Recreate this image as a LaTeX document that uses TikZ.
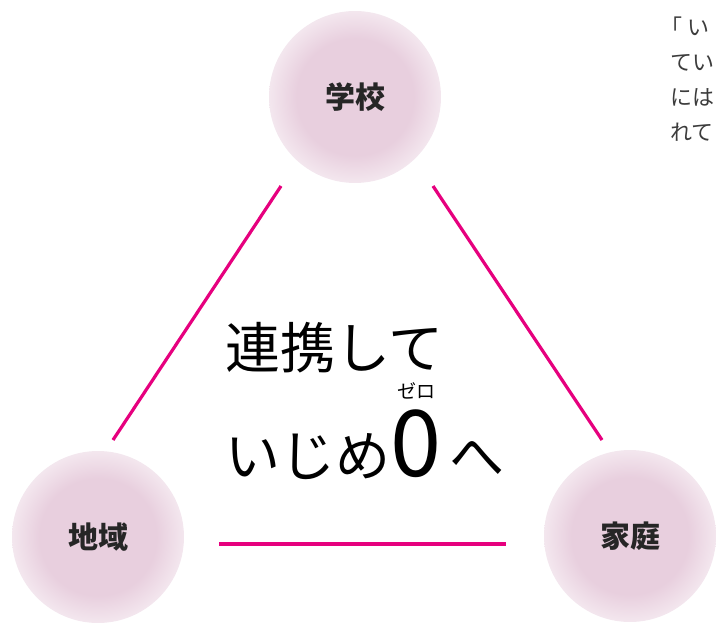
\documentclass[tikz,border=0pt]{standalone}
\usepackage{fontspec}
\newfontfamily\jpfont{Noto Sans CJK JP}
\usetikzlibrary{positioning}
\definecolor{spotpink}{RGB}{232,207,222}
\definecolor{linkmagenta}{RGB}{230,0,126}
\definecolor{notegray}{RGB}{60,60,60}
\pgfdeclareradialshading{spotshade}{\pgfpoint{0bp}{0bp}}{%
  color(0bp)=(spotpink); color(17bp)=(spotpink);
  color(25bp)=(spotpink!50!white); color(50bp)=(spotpink!50!white)}
\begin{document}
\begin{tikzpicture}[
	x=1pt, y=-1pt,
	spot/.style={circle, minimum size=172pt, inner sep=0pt, shading=spotshade,
	  text=black!85, font=\jpfont\fontsize{30}{30}\selectfont\bfseries},
	link/.style={draw=linkmagenta, line width=3.2pt},
	big/.style={inner sep=0pt, anchor=base west, font=\jpfont\fontsize{55}{55}\selectfont},
	note/.style={inner sep=0pt, anchor=base west, text=notegray, font=\jpfont\fontsize{22}{22}\selectfont},
	]
\useasboundingbox (0,0) rectangle (716,623);
\node [spot] (school) at (355,97) {学校};
\node [spot] (region) at (98,537) {地域};
\node [spot] (home) at (630,536) {家庭};
\draw [link] ([shift={(-74,89)}]school.center) -- ([shift={(15,-97)}]region.center);
\draw [link] ([shift={(78,89)}]school.center) -- ([shift={(-28,-96)}]home.center);
\draw [link] ([shift={(121,7)}]region.center) -- ([shift={(-124,8)}]home.center);
\node [big] (renkei) at (225,368) {連携して};
\node [big] (ijime) at (225,476) {いじめ};
\node [big, font=\jpfont\fontsize{92}{92}\selectfont] (zero) at (ijime.base east) {0};
\node [big] (he) at ([xshift=7pt]zero.base east) {へ};
\node [inner sep=0pt, anchor=base, font=\jpfont\fontsize{19}{19}\selectfont] (zerokana) at ([yshift=78pt]zero.base) {ゼロ};
\node [note] (note1) at (660,36) {「\kern5pt い};
\node [note] (note2) at (670,71) {てい};
\node [note] (note3) at (670,106) {には};
\node [note] (note4) at (670,141) {れて};
\end{tikzpicture}
\end{document}
